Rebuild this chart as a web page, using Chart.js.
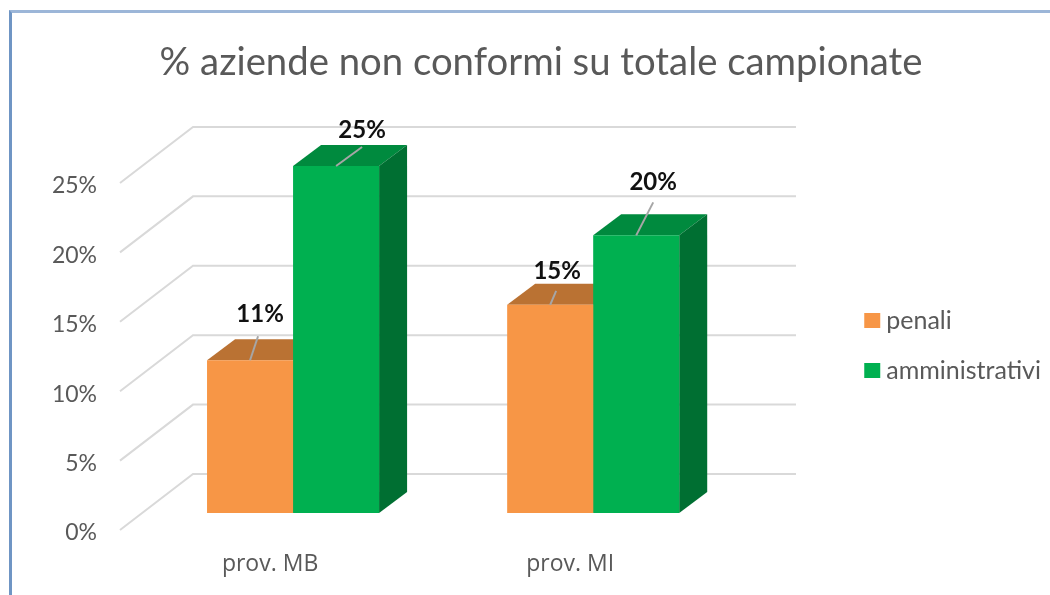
<!DOCTYPE html>
<html>
<head>
<meta charset="utf-8">
<title>% aziende non conformi</title>
<script src="https://cdn.jsdelivr.net/npm/chart.js@4"></script>
<style>
    html, body { margin: 0; padding: 0; background: #fff; overflow: hidden; }
    #frame { position: absolute; left: 9px; top: 10px; width: 1041px; height: 585px; box-sizing: border-box; border-top: 3px solid #9cb6d8; border-left: 3px solid #6f95c4; }
    #chart { position: absolute; left: 0; top: 0; }
</style>
</head>
<body>
<div id="frame"></div>
<canvas id="chart" width="1050" height="595"></canvas>
<script>
const categories = ['prov. MB', 'prov. MI'];
const penali = [11, 15];
const amministrativi = [25, 20];
const tickValues = [0, 5, 10, 15, 20, 25];

const chartTitle = '% aziende non conformi su totale campionate';

// 3D look: one px value for the depth of the bars and how far the walls sit from them
const pxPerUnit = 13.88;
const barDepth = { x: 28, y: 21 };
const wallFront = { x: 120, y: 17 };
const wallBack = { x: 193, y: -39, right: 796 };
const tickLabelDrop = 20;

// leader line + label offsets per dataset/bar, measured from the front top centre of the bar
const leaderEnds = [[[8, -24], [6, -14]], [[26, -19], [17, -33]]];
const labelOffsets = [[[10, -46], [7, -34]], [[26, -36], [17, -53]]];

const faceColors = [
    { front: '#f79646', top: '#ba7233', side: '#ba7233' },
    { front: '#00b050', top: '#008a3e', side: '#006f32' }
];

const font = 'Lato, sans-serif';
const textGray = '#595959';

const wallPlugin = {
    id: 'walls',
    afterLayout(chart) {
        // legend sits lower than the layout puts it
        chart.legend.top += 23;
        chart.legend.bottom += 23;
        chart.legend.left += 1;
        chart.legend.right += 1;
    },
    beforeDatasetsDraw(chart) {
        const { ctx } = chart;
        const y = chart.scales.y;
        ctx.save();
        ctx.strokeStyle = '#d9d9d9';
        ctx.lineWidth = 2;
        tickValues.forEach(v => {
            const p = y.getPixelForValue(v);
            ctx.beginPath();
            ctx.moveTo(wallFront.x, p + wallFront.y);
            ctx.lineTo(wallBack.x, p + wallBack.y);
            ctx.lineTo(wallBack.right, p + wallBack.y);
            ctx.stroke();
        });
        // top and side faces go behind the fronts of the bars
        chart.data.datasets.forEach((ds, i) => {
            chart.getDatasetMeta(i).data.forEach(bar => {
                const left = bar.x - bar.width / 2;
                const right = bar.x + bar.width / 2;
                ctx.fillStyle = faceColors[i].top;
                ctx.beginPath();
                ctx.moveTo(left, bar.y);
                ctx.lineTo(left + barDepth.x, bar.y - barDepth.y);
                ctx.lineTo(right + barDepth.x, bar.y - barDepth.y);
                ctx.lineTo(right, bar.y);
                ctx.closePath();
                ctx.fill();
                ctx.fillStyle = faceColors[i].side;
                ctx.beginPath();
                ctx.moveTo(right, bar.y);
                ctx.lineTo(right + barDepth.x, bar.y - barDepth.y);
                ctx.lineTo(right + barDepth.x, bar.base - barDepth.y);
                ctx.lineTo(right, bar.base);
                ctx.closePath();
                ctx.fill();
            });
        });
        ctx.restore();
    },
    afterDatasetsDraw(chart) {
        const { ctx } = chart;
        ctx.save();
        ctx.textAlign = 'center';
        ctx.textBaseline = 'middle';
        chart.data.datasets.forEach((ds, i) => {
            chart.getDatasetMeta(i).data.forEach((bar, j) => {
                ctx.strokeStyle = '#a6a6a6';
                ctx.lineWidth = 2;
                ctx.beginPath();
                ctx.moveTo(bar.x, bar.y);
                ctx.lineTo(bar.x + leaderEnds[i][j][0], bar.y + leaderEnds[i][j][1]);
                ctx.stroke();
                ctx.fillStyle = '#111';
                ctx.font = `bold 24px ${font}`;
                ctx.fillText(ds.data[j] + '%', bar.x + labelOffsets[i][j][0], bar.y + labelOffsets[i][j][1]);
            });
        });
        ctx.restore();
    }
};

// y axis runs over the whole chart area: 110 to 535, with zero at 513
const yMin = -22 / pxPerUnit;
const yMax = yMin + 425 / pxPerUnit;

new Chart(document.getElementById('chart'), {
    type: 'bar',
    data: {
        labels: categories,
        datasets: [
            { label: 'penali', data: penali, backgroundColor: faceColors[0].front, yAxisID: 'y' },
            { label: 'amministrativi', data: amministrativi, backgroundColor: faceColors[1].front, yAxisID: 'y' }
        ]
    },
    options: {
        responsive: false,
        animation: false,
        layout: { autoPadding: false, padding: { left: 32 } },
        datasets: { bar: { barPercentage: 1, categoryPercentage: 0.5733 } },
        scales: {
            x: {
                grid: { display: false },
                border: { display: false },
                ticks: {
                    color: textGray,
                    font: { family: 'Open Sans, sans-serif', size: 23 },
                    padding: 8,
                    labelOffset: -23,
                    maxRotation: 0,
                    autoSkip: false
                },
                afterFit(scale) { scale.height = 60; }
            },
            y: { display: false, min: yMin, max: yMax },
            // tick labels sit on the front edge of the floor, below the bars' own zero
            yLabels: {
                position: 'left',
                min: yMin + tickLabelDrop / pxPerUnit,
                max: yMax + tickLabelDrop / pxPerUnit,
                grid: { display: false, drawTicks: false },
                border: { display: false },
                ticks: {
                    color: textGray,
                    font: { family: font, size: 23 },
                    padding: 46,
                    callback: v => v + '%'
                },
                afterBuildTicks(scale) { scale.ticks = tickValues.map(value => ({ value })); },
                afterFit(scale) { scale.width = 111; }
            },
            spacer: {
                position: 'right',
                grid: { display: false, drawTicks: false },
                border: { display: false },
                ticks: { display: false },
                afterFit(scale) { scale.width = 101.5; }
            }
        },
        plugins: {
            title: {
                display: true,
                text: chartTitle,
                color: textGray,
                font: { family: font, size: 38.3, weight: 'normal' },
                padding: { top: 40, bottom: 24 }
            },
            legend: {
                position: 'right',
                fullSize: false,
                maxWidth: 300,
                labels: {
                    color: textGray,
                    font: { family: font, size: 25 },
                    // small box with a thick stroke: keeps the swatch close to its text
                    boxWidth: 3,
                    boxHeight: 2,
                    padding: 25,
                    generateLabels(chart) {
                        return Chart.defaults.plugins.legend.labels.generateLabels(chart).map(item => ({
                            ...item,
                            lineWidth: 13,
                            strokeStyle: item.fillStyle
                        }));
                    }
                }
            },
            tooltip: { enabled: false }
        }
    },
    plugins: [wallPlugin]
});
</script>
</body>
</html>
